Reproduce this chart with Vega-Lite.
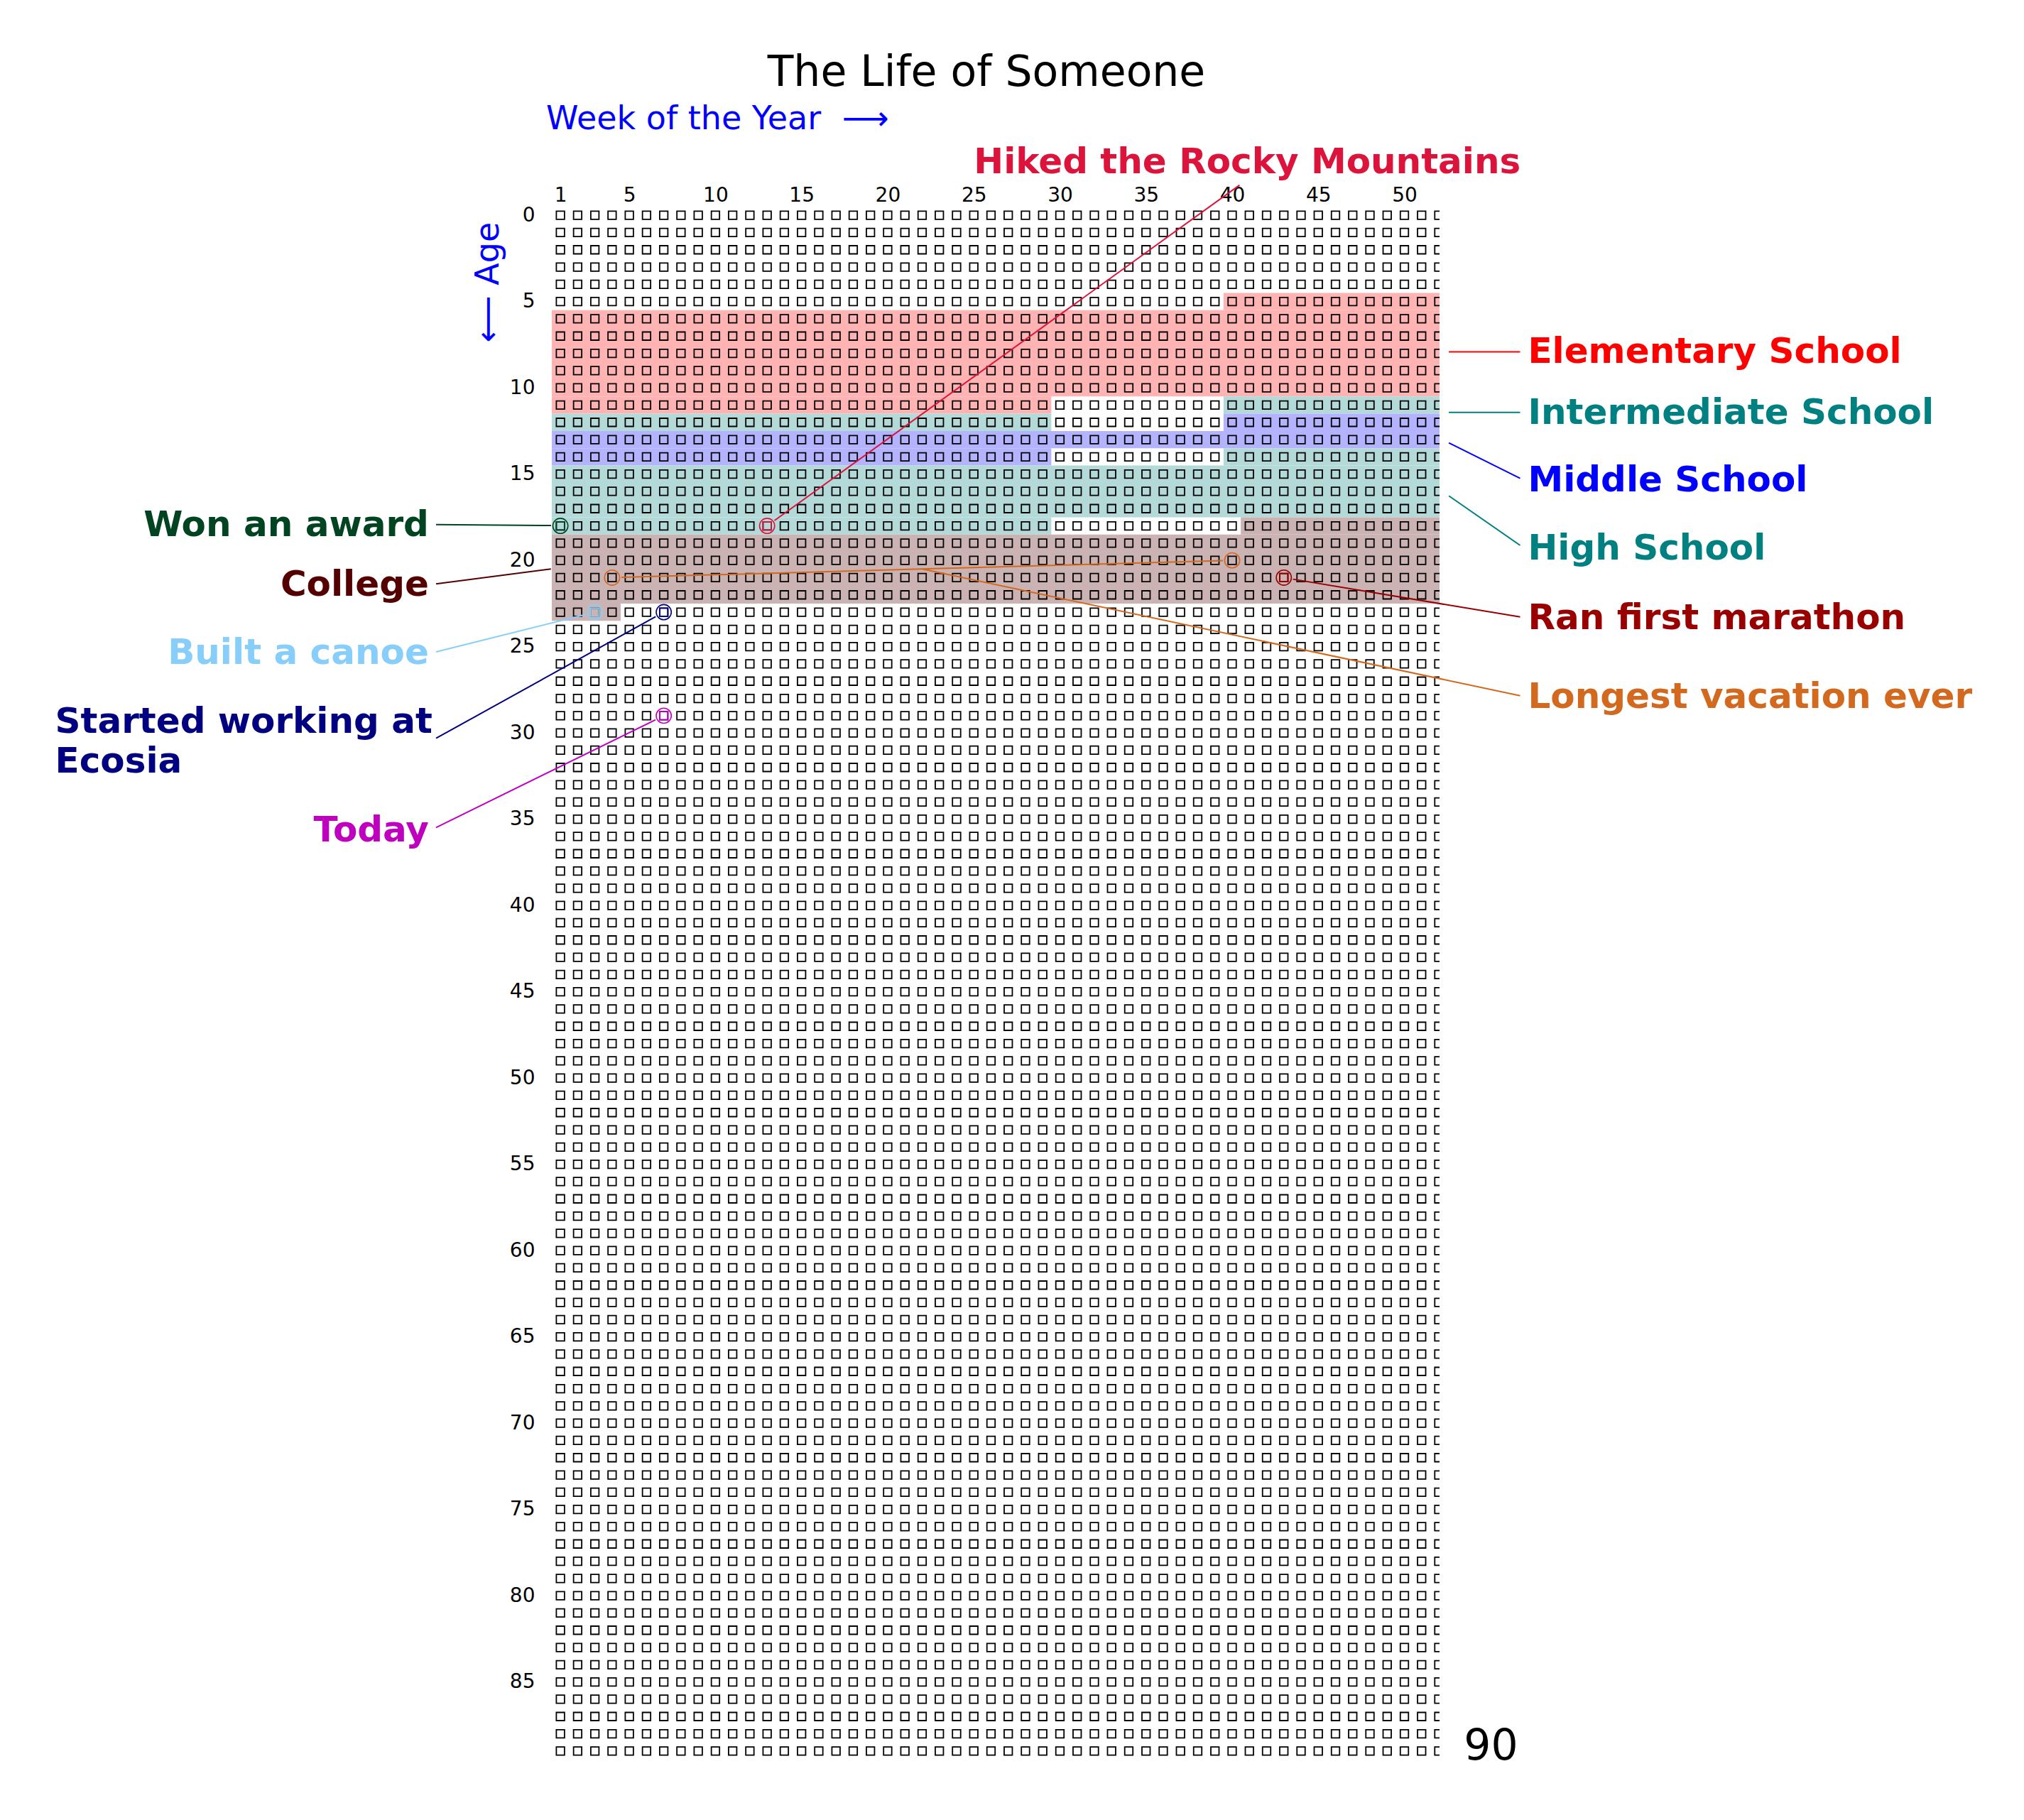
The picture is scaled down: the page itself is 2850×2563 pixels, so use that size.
{
  "$schema": "https://vega.github.io/schema/vega-lite/v6.json",
  "autosize": {"type": "none"},
  "padding": {"left": 777, "top": 291, "right": 823, "bottom": 85},
  "width": 1250,
  "height": 2187,
  "background": "white",
  "title": {"text": "The Life of Someone", "font": "DejaVu Sans", "fontSize": 60, "fontWeight": "normal", "color": "black", "anchor": "middle", "frame": "group", "baseline": "alphabetic", "offset": 25, "dx": -13, "dy": 61},
  "config": {"view": {"stroke": null}, "text": {"font": "DejaVu Sans"}},
  "datasets": {
    "periods": [
      {"p": "Elementary School", "x": 39.5, "x2": 52.5, "y": 4.5, "y2": 5.5, "c": "#ffb3b3"},
      {"p": "Elementary School", "x": 0.5, "x2": 52.5, "y": 5.5, "y2": 10.5, "c": "#ffb3b3"},
      {"p": "Elementary School", "x": 0.5, "x2": 29.5, "y": 10.5, "y2": 11.5, "c": "#ffb3b3"},
      {"p": "Intermediate School", "x": 39.5, "x2": 52.5, "y": 10.5, "y2": 11.5, "c": "#b3d9d9"},
      {"p": "Intermediate School", "x": 0.5, "x2": 29.5, "y": 11.5, "y2": 12.5, "c": "#b3d9d9"},
      {"p": "Middle School", "x": 39.5, "x2": 52.5, "y": 11.5, "y2": 12.5, "c": "#b3b3ff"},
      {"p": "Middle School", "x": 0.5, "x2": 52.5, "y": 12.5, "y2": 13.5, "c": "#b3b3ff"},
      {"p": "Middle School", "x": 0.5, "x2": 29.5, "y": 13.5, "y2": 14.5, "c": "#b3b3ff"},
      {"p": "High School", "x": 39.5, "x2": 52.5, "y": 13.5, "y2": 14.5, "c": "#b3d9d9"},
      {"p": "High School", "x": 0.5, "x2": 52.5, "y": 14.5, "y2": 17.5, "c": "#b3d9d9"},
      {"p": "High School", "x": 0.5, "x2": 29.5, "y": 17.5, "y2": 18.5, "c": "#b3d9d9"},
      {"p": "College", "x": 40.5, "x2": 52.5, "y": 17.5, "y2": 18.5, "c": "#ccb3b3"},
      {"p": "College", "x": 0.5, "x2": 52.5, "y": 18.5, "y2": 22.5, "c": "#ccb3b3"},
      {"p": "College", "x": 0.5, "x2": 4.5, "y": 22.5, "y2": 23.5, "c": "#ccb3b3"}
    ],
    "grid": [
      {"y":0,"x":[1,2,3,4,5,6,7,8,9,10,11,12,13,14,15,16,17,18,19,20,21,22,23,24,25,26,27,28,29,30,31,32,33,34,35,36,37,38,39,40,41,42,43,44,45,46,47,48,49,50,51,52]},
      {"y":1,"x":[1,2,3,4,5,6,7,8,9,10,11,12,13,14,15,16,17,18,19,20,21,22,23,24,25,26,27,28,29,30,31,32,33,34,35,36,37,38,39,40,41,42,43,44,45,46,47,48,49,50,51,52]},
      {"y":2,"x":[1,2,3,4,5,6,7,8,9,10,11,12,13,14,15,16,17,18,19,20,21,22,23,24,25,26,27,28,29,30,31,32,33,34,35,36,37,38,39,40,41,42,43,44,45,46,47,48,49,50,51,52]},
      {"y":3,"x":[1,2,3,4,5,6,7,8,9,10,11,12,13,14,15,16,17,18,19,20,21,22,23,24,25,26,27,28,29,30,31,32,33,34,35,36,37,38,39,40,41,42,43,44,45,46,47,48,49,50,51,52]},
      {"y":4,"x":[1,2,3,4,5,6,7,8,9,10,11,12,13,14,15,16,17,18,19,20,21,22,23,24,25,26,27,28,29,30,31,32,33,34,35,36,37,38,39,40,41,42,43,44,45,46,47,48,49,50,51,52]},
      {"y":5,"x":[1,2,3,4,5,6,7,8,9,10,11,12,13,14,15,16,17,18,19,20,21,22,23,24,25,26,27,28,29,30,31,32,33,34,35,36,37,38,39,40,41,42,43,44,45,46,47,48,49,50,51,52]},
      {"y":6,"x":[1,2,3,4,5,6,7,8,9,10,11,12,13,14,15,16,17,18,19,20,21,22,23,24,25,26,27,28,29,30,31,32,33,34,35,36,37,38,39,40,41,42,43,44,45,46,47,48,49,50,51,52]},
      {"y":7,"x":[1,2,3,4,5,6,7,8,9,10,11,12,13,14,15,16,17,18,19,20,21,22,23,24,25,26,27,28,29,30,31,32,33,34,35,36,37,38,39,40,41,42,43,44,45,46,47,48,49,50,51,52]},
      {"y":8,"x":[1,2,3,4,5,6,7,8,9,10,11,12,13,14,15,16,17,18,19,20,21,22,23,24,25,26,27,28,29,30,31,32,33,34,35,36,37,38,39,40,41,42,43,44,45,46,47,48,49,50,51,52]},
      {"y":9,"x":[1,2,3,4,5,6,7,8,9,10,11,12,13,14,15,16,17,18,19,20,21,22,23,24,25,26,27,28,29,30,31,32,33,34,35,36,37,38,39,40,41,42,43,44,45,46,47,48,49,50,51,52]},
      {"y":10,"x":[1,2,3,4,5,6,7,8,9,10,11,12,13,14,15,16,17,18,19,20,21,22,23,24,25,26,27,28,29,30,31,32,33,34,35,36,37,38,39,40,41,42,43,44,45,46,47,48,49,50,51,52]},
      {"y":11,"x":[1,2,3,4,5,6,7,8,9,10,11,12,13,14,15,16,17,18,19,20,21,22,23,24,25,26,27,28,29,30,31,32,33,34,35,36,37,38,39,40,41,42,43,44,45,46,47,48,49,50,51,52]},
      {"y":12,"x":[1,2,3,4,5,6,7,8,9,10,11,12,13,14,15,16,17,18,19,20,21,22,23,24,25,26,27,28,29,30,31,32,33,34,35,36,37,38,39,40,41,42,43,44,45,46,47,48,49,50,51,52]},
      {"y":13,"x":[1,2,3,4,5,6,7,8,9,10,11,12,13,14,15,16,17,18,19,20,21,22,23,24,25,26,27,28,29,30,31,32,33,34,35,36,37,38,39,40,41,42,43,44,45,46,47,48,49,50,51,52]},
      {"y":14,"x":[1,2,3,4,5,6,7,8,9,10,11,12,13,14,15,16,17,18,19,20,21,22,23,24,25,26,27,28,29,30,31,32,33,34,35,36,37,38,39,40,41,42,43,44,45,46,47,48,49,50,51,52]},
      {"y":15,"x":[1,2,3,4,5,6,7,8,9,10,11,12,13,14,15,16,17,18,19,20,21,22,23,24,25,26,27,28,29,30,31,32,33,34,35,36,37,38,39,40,41,42,43,44,45,46,47,48,49,50,51,52]},
      {"y":16,"x":[1,2,3,4,5,6,7,8,9,10,11,12,13,14,15,16,17,18,19,20,21,22,23,24,25,26,27,28,29,30,31,32,33,34,35,36,37,38,39,40,41,42,43,44,45,46,47,48,49,50,51,52]},
      {"y":17,"x":[1,2,3,4,5,6,7,8,9,10,11,12,13,14,15,16,17,18,19,20,21,22,23,24,25,26,27,28,29,30,31,32,33,34,35,36,37,38,39,40,41,42,43,44,45,46,47,48,49,50,51,52]},
      {"y":18,"x":[1,2,3,4,5,6,7,8,9,10,11,12,13,14,15,16,17,18,19,20,21,22,23,24,25,26,27,28,29,30,31,32,33,34,35,36,37,38,39,40,41,42,43,44,45,46,47,48,49,50,51,52]},
      {"y":19,"x":[1,2,3,4,5,6,7,8,9,10,11,12,13,14,15,16,17,18,19,20,21,22,23,24,25,26,27,28,29,30,31,32,33,34,35,36,37,38,39,40,41,42,43,44,45,46,47,48,49,50,51,52]},
      {"y":20,"x":[1,2,3,4,5,6,7,8,9,10,11,12,13,14,15,16,17,18,19,20,21,22,23,24,25,26,27,28,29,30,31,32,33,34,35,36,37,38,39,40,41,42,43,44,45,46,47,48,49,50,51,52]},
      {"y":21,"x":[1,2,3,4,5,6,7,8,9,10,11,12,13,14,15,16,17,18,19,20,21,22,23,24,25,26,27,28,29,30,31,32,33,34,35,36,37,38,39,40,41,42,43,44,45,46,47,48,49,50,51,52]},
      {"y":22,"x":[1,2,3,4,5,6,7,8,9,10,11,12,13,14,15,16,17,18,19,20,21,22,23,24,25,26,27,28,29,30,31,32,33,34,35,36,37,38,39,40,41,42,43,44,45,46,47,48,49,50,51,52]},
      {"y":23,"x":[1,2,3,4,5,6,7,8,9,10,11,12,13,14,15,16,17,18,19,20,21,22,23,24,25,26,27,28,29,30,31,32,33,34,35,36,37,38,39,40,41,42,43,44,45,46,47,48,49,50,51,52]},
      {"y":24,"x":[1,2,3,4,5,6,7,8,9,10,11,12,13,14,15,16,17,18,19,20,21,22,23,24,25,26,27,28,29,30,31,32,33,34,35,36,37,38,39,40,41,42,43,44,45,46,47,48,49,50,51,52]},
      {"y":25,"x":[1,2,3,4,5,6,7,8,9,10,11,12,13,14,15,16,17,18,19,20,21,22,23,24,25,26,27,28,29,30,31,32,33,34,35,36,37,38,39,40,41,42,43,44,45,46,47,48,49,50,51,52]},
      {"y":26,"x":[1,2,3,4,5,6,7,8,9,10,11,12,13,14,15,16,17,18,19,20,21,22,23,24,25,26,27,28,29,30,31,32,33,34,35,36,37,38,39,40,41,42,43,44,45,46,47,48,49,50,51,52]},
      {"y":27,"x":[1,2,3,4,5,6,7,8,9,10,11,12,13,14,15,16,17,18,19,20,21,22,23,24,25,26,27,28,29,30,31,32,33,34,35,36,37,38,39,40,41,42,43,44,45,46,47,48,49,50,51,52]},
      {"y":28,"x":[1,2,3,4,5,6,7,8,9,10,11,12,13,14,15,16,17,18,19,20,21,22,23,24,25,26,27,28,29,30,31,32,33,34,35,36,37,38,39,40,41,42,43,44,45,46,47,48,49,50,51,52]},
      {"y":29,"x":[1,2,3,4,5,6,7,8,9,10,11,12,13,14,15,16,17,18,19,20,21,22,23,24,25,26,27,28,29,30,31,32,33,34,35,36,37,38,39,40,41,42,43,44,45,46,47,48,49,50,51,52]},
      {"y":30,"x":[1,2,3,4,5,6,7,8,9,10,11,12,13,14,15,16,17,18,19,20,21,22,23,24,25,26,27,28,29,30,31,32,33,34,35,36,37,38,39,40,41,42,43,44,45,46,47,48,49,50,51,52]},
      {"y":31,"x":[1,2,3,4,5,6,7,8,9,10,11,12,13,14,15,16,17,18,19,20,21,22,23,24,25,26,27,28,29,30,31,32,33,34,35,36,37,38,39,40,41,42,43,44,45,46,47,48,49,50,51,52]},
      {"y":32,"x":[1,2,3,4,5,6,7,8,9,10,11,12,13,14,15,16,17,18,19,20,21,22,23,24,25,26,27,28,29,30,31,32,33,34,35,36,37,38,39,40,41,42,43,44,45,46,47,48,49,50,51,52]},
      {"y":33,"x":[1,2,3,4,5,6,7,8,9,10,11,12,13,14,15,16,17,18,19,20,21,22,23,24,25,26,27,28,29,30,31,32,33,34,35,36,37,38,39,40,41,42,43,44,45,46,47,48,49,50,51,52]},
      {"y":34,"x":[1,2,3,4,5,6,7,8,9,10,11,12,13,14,15,16,17,18,19,20,21,22,23,24,25,26,27,28,29,30,31,32,33,34,35,36,37,38,39,40,41,42,43,44,45,46,47,48,49,50,51,52]},
      {"y":35,"x":[1,2,3,4,5,6,7,8,9,10,11,12,13,14,15,16,17,18,19,20,21,22,23,24,25,26,27,28,29,30,31,32,33,34,35,36,37,38,39,40,41,42,43,44,45,46,47,48,49,50,51,52]},
      {"y":36,"x":[1,2,3,4,5,6,7,8,9,10,11,12,13,14,15,16,17,18,19,20,21,22,23,24,25,26,27,28,29,30,31,32,33,34,35,36,37,38,39,40,41,42,43,44,45,46,47,48,49,50,51,52]},
      {"y":37,"x":[1,2,3,4,5,6,7,8,9,10,11,12,13,14,15,16,17,18,19,20,21,22,23,24,25,26,27,28,29,30,31,32,33,34,35,36,37,38,39,40,41,42,43,44,45,46,47,48,49,50,51,52]},
      {"y":38,"x":[1,2,3,4,5,6,7,8,9,10,11,12,13,14,15,16,17,18,19,20,21,22,23,24,25,26,27,28,29,30,31,32,33,34,35,36,37,38,39,40,41,42,43,44,45,46,47,48,49,50,51,52]},
      {"y":39,"x":[1,2,3,4,5,6,7,8,9,10,11,12,13,14,15,16,17,18,19,20,21,22,23,24,25,26,27,28,29,30,31,32,33,34,35,36,37,38,39,40,41,42,43,44,45,46,47,48,49,50,51,52]},
      {"y":40,"x":[1,2,3,4,5,6,7,8,9,10,11,12,13,14,15,16,17,18,19,20,21,22,23,24,25,26,27,28,29,30,31,32,33,34,35,36,37,38,39,40,41,42,43,44,45,46,47,48,49,50,51,52]},
      {"y":41,"x":[1,2,3,4,5,6,7,8,9,10,11,12,13,14,15,16,17,18,19,20,21,22,23,24,25,26,27,28,29,30,31,32,33,34,35,36,37,38,39,40,41,42,43,44,45,46,47,48,49,50,51,52]},
      {"y":42,"x":[1,2,3,4,5,6,7,8,9,10,11,12,13,14,15,16,17,18,19,20,21,22,23,24,25,26,27,28,29,30,31,32,33,34,35,36,37,38,39,40,41,42,43,44,45,46,47,48,49,50,51,52]},
      {"y":43,"x":[1,2,3,4,5,6,7,8,9,10,11,12,13,14,15,16,17,18,19,20,21,22,23,24,25,26,27,28,29,30,31,32,33,34,35,36,37,38,39,40,41,42,43,44,45,46,47,48,49,50,51,52]},
      {"y":44,"x":[1,2,3,4,5,6,7,8,9,10,11,12,13,14,15,16,17,18,19,20,21,22,23,24,25,26,27,28,29,30,31,32,33,34,35,36,37,38,39,40,41,42,43,44,45,46,47,48,49,50,51,52]},
      {"y":45,"x":[1,2,3,4,5,6,7,8,9,10,11,12,13,14,15,16,17,18,19,20,21,22,23,24,25,26,27,28,29,30,31,32,33,34,35,36,37,38,39,40,41,42,43,44,45,46,47,48,49,50,51,52]},
      {"y":46,"x":[1,2,3,4,5,6,7,8,9,10,11,12,13,14,15,16,17,18,19,20,21,22,23,24,25,26,27,28,29,30,31,32,33,34,35,36,37,38,39,40,41,42,43,44,45,46,47,48,49,50,51,52]},
      {"y":47,"x":[1,2,3,4,5,6,7,8,9,10,11,12,13,14,15,16,17,18,19,20,21,22,23,24,25,26,27,28,29,30,31,32,33,34,35,36,37,38,39,40,41,42,43,44,45,46,47,48,49,50,51,52]},
      {"y":48,"x":[1,2,3,4,5,6,7,8,9,10,11,12,13,14,15,16,17,18,19,20,21,22,23,24,25,26,27,28,29,30,31,32,33,34,35,36,37,38,39,40,41,42,43,44,45,46,47,48,49,50,51,52]},
      {"y":49,"x":[1,2,3,4,5,6,7,8,9,10,11,12,13,14,15,16,17,18,19,20,21,22,23,24,25,26,27,28,29,30,31,32,33,34,35,36,37,38,39,40,41,42,43,44,45,46,47,48,49,50,51,52]},
      {"y":50,"x":[1,2,3,4,5,6,7,8,9,10,11,12,13,14,15,16,17,18,19,20,21,22,23,24,25,26,27,28,29,30,31,32,33,34,35,36,37,38,39,40,41,42,43,44,45,46,47,48,49,50,51,52]},
      {"y":51,"x":[1,2,3,4,5,6,7,8,9,10,11,12,13,14,15,16,17,18,19,20,21,22,23,24,25,26,27,28,29,30,31,32,33,34,35,36,37,38,39,40,41,42,43,44,45,46,47,48,49,50,51,52]},
      {"y":52,"x":[1,2,3,4,5,6,7,8,9,10,11,12,13,14,15,16,17,18,19,20,21,22,23,24,25,26,27,28,29,30,31,32,33,34,35,36,37,38,39,40,41,42,43,44,45,46,47,48,49,50,51,52]},
      {"y":53,"x":[1,2,3,4,5,6,7,8,9,10,11,12,13,14,15,16,17,18,19,20,21,22,23,24,25,26,27,28,29,30,31,32,33,34,35,36,37,38,39,40,41,42,43,44,45,46,47,48,49,50,51,52]},
      {"y":54,"x":[1,2,3,4,5,6,7,8,9,10,11,12,13,14,15,16,17,18,19,20,21,22,23,24,25,26,27,28,29,30,31,32,33,34,35,36,37,38,39,40,41,42,43,44,45,46,47,48,49,50,51,52]},
      {"y":55,"x":[1,2,3,4,5,6,7,8,9,10,11,12,13,14,15,16,17,18,19,20,21,22,23,24,25,26,27,28,29,30,31,32,33,34,35,36,37,38,39,40,41,42,43,44,45,46,47,48,49,50,51,52]},
      {"y":56,"x":[1,2,3,4,5,6,7,8,9,10,11,12,13,14,15,16,17,18,19,20,21,22,23,24,25,26,27,28,29,30,31,32,33,34,35,36,37,38,39,40,41,42,43,44,45,46,47,48,49,50,51,52]},
      {"y":57,"x":[1,2,3,4,5,6,7,8,9,10,11,12,13,14,15,16,17,18,19,20,21,22,23,24,25,26,27,28,29,30,31,32,33,34,35,36,37,38,39,40,41,42,43,44,45,46,47,48,49,50,51,52]},
      {"y":58,"x":[1,2,3,4,5,6,7,8,9,10,11,12,13,14,15,16,17,18,19,20,21,22,23,24,25,26,27,28,29,30,31,32,33,34,35,36,37,38,39,40,41,42,43,44,45,46,47,48,49,50,51,52]},
      {"y":59,"x":[1,2,3,4,5,6,7,8,9,10,11,12,13,14,15,16,17,18,19,20,21,22,23,24,25,26,27,28,29,30,31,32,33,34,35,36,37,38,39,40,41,42,43,44,45,46,47,48,49,50,51,52]},
      {"y":60,"x":[1,2,3,4,5,6,7,8,9,10,11,12,13,14,15,16,17,18,19,20,21,22,23,24,25,26,27,28,29,30,31,32,33,34,35,36,37,38,39,40,41,42,43,44,45,46,47,48,49,50,51,52]},
      {"y":61,"x":[1,2,3,4,5,6,7,8,9,10,11,12,13,14,15,16,17,18,19,20,21,22,23,24,25,26,27,28,29,30,31,32,33,34,35,36,37,38,39,40,41,42,43,44,45,46,47,48,49,50,51,52]},
      {"y":62,"x":[1,2,3,4,5,6,7,8,9,10,11,12,13,14,15,16,17,18,19,20,21,22,23,24,25,26,27,28,29,30,31,32,33,34,35,36,37,38,39,40,41,42,43,44,45,46,47,48,49,50,51,52]},
      {"y":63,"x":[1,2,3,4,5,6,7,8,9,10,11,12,13,14,15,16,17,18,19,20,21,22,23,24,25,26,27,28,29,30,31,32,33,34,35,36,37,38,39,40,41,42,43,44,45,46,47,48,49,50,51,52]},
      {"y":64,"x":[1,2,3,4,5,6,7,8,9,10,11,12,13,14,15,16,17,18,19,20,21,22,23,24,25,26,27,28,29,30,31,32,33,34,35,36,37,38,39,40,41,42,43,44,45,46,47,48,49,50,51,52]},
      {"y":65,"x":[1,2,3,4,5,6,7,8,9,10,11,12,13,14,15,16,17,18,19,20,21,22,23,24,25,26,27,28,29,30,31,32,33,34,35,36,37,38,39,40,41,42,43,44,45,46,47,48,49,50,51,52]},
      {"y":66,"x":[1,2,3,4,5,6,7,8,9,10,11,12,13,14,15,16,17,18,19,20,21,22,23,24,25,26,27,28,29,30,31,32,33,34,35,36,37,38,39,40,41,42,43,44,45,46,47,48,49,50,51,52]},
      {"y":67,"x":[1,2,3,4,5,6,7,8,9,10,11,12,13,14,15,16,17,18,19,20,21,22,23,24,25,26,27,28,29,30,31,32,33,34,35,36,37,38,39,40,41,42,43,44,45,46,47,48,49,50,51,52]},
      {"y":68,"x":[1,2,3,4,5,6,7,8,9,10,11,12,13,14,15,16,17,18,19,20,21,22,23,24,25,26,27,28,29,30,31,32,33,34,35,36,37,38,39,40,41,42,43,44,45,46,47,48,49,50,51,52]},
      {"y":69,"x":[1,2,3,4,5,6,7,8,9,10,11,12,13,14,15,16,17,18,19,20,21,22,23,24,25,26,27,28,29,30,31,32,33,34,35,36,37,38,39,40,41,42,43,44,45,46,47,48,49,50,51,52]},
      {"y":70,"x":[1,2,3,4,5,6,7,8,9,10,11,12,13,14,15,16,17,18,19,20,21,22,23,24,25,26,27,28,29,30,31,32,33,34,35,36,37,38,39,40,41,42,43,44,45,46,47,48,49,50,51,52]},
      {"y":71,"x":[1,2,3,4,5,6,7,8,9,10,11,12,13,14,15,16,17,18,19,20,21,22,23,24,25,26,27,28,29,30,31,32,33,34,35,36,37,38,39,40,41,42,43,44,45,46,47,48,49,50,51,52]},
      {"y":72,"x":[1,2,3,4,5,6,7,8,9,10,11,12,13,14,15,16,17,18,19,20,21,22,23,24,25,26,27,28,29,30,31,32,33,34,35,36,37,38,39,40,41,42,43,44,45,46,47,48,49,50,51,52]},
      {"y":73,"x":[1,2,3,4,5,6,7,8,9,10,11,12,13,14,15,16,17,18,19,20,21,22,23,24,25,26,27,28,29,30,31,32,33,34,35,36,37,38,39,40,41,42,43,44,45,46,47,48,49,50,51,52]},
      {"y":74,"x":[1,2,3,4,5,6,7,8,9,10,11,12,13,14,15,16,17,18,19,20,21,22,23,24,25,26,27,28,29,30,31,32,33,34,35,36,37,38,39,40,41,42,43,44,45,46,47,48,49,50,51,52]},
      {"y":75,"x":[1,2,3,4,5,6,7,8,9,10,11,12,13,14,15,16,17,18,19,20,21,22,23,24,25,26,27,28,29,30,31,32,33,34,35,36,37,38,39,40,41,42,43,44,45,46,47,48,49,50,51,52]},
      {"y":76,"x":[1,2,3,4,5,6,7,8,9,10,11,12,13,14,15,16,17,18,19,20,21,22,23,24,25,26,27,28,29,30,31,32,33,34,35,36,37,38,39,40,41,42,43,44,45,46,47,48,49,50,51,52]},
      {"y":77,"x":[1,2,3,4,5,6,7,8,9,10,11,12,13,14,15,16,17,18,19,20,21,22,23,24,25,26,27,28,29,30,31,32,33,34,35,36,37,38,39,40,41,42,43,44,45,46,47,48,49,50,51,52]},
      {"y":78,"x":[1,2,3,4,5,6,7,8,9,10,11,12,13,14,15,16,17,18,19,20,21,22,23,24,25,26,27,28,29,30,31,32,33,34,35,36,37,38,39,40,41,42,43,44,45,46,47,48,49,50,51,52]},
      {"y":79,"x":[1,2,3,4,5,6,7,8,9,10,11,12,13,14,15,16,17,18,19,20,21,22,23,24,25,26,27,28,29,30,31,32,33,34,35,36,37,38,39,40,41,42,43,44,45,46,47,48,49,50,51,52]},
      {"y":80,"x":[1,2,3,4,5,6,7,8,9,10,11,12,13,14,15,16,17,18,19,20,21,22,23,24,25,26,27,28,29,30,31,32,33,34,35,36,37,38,39,40,41,42,43,44,45,46,47,48,49,50,51,52]},
      {"y":81,"x":[1,2,3,4,5,6,7,8,9,10,11,12,13,14,15,16,17,18,19,20,21,22,23,24,25,26,27,28,29,30,31,32,33,34,35,36,37,38,39,40,41,42,43,44,45,46,47,48,49,50,51,52]},
      {"y":82,"x":[1,2,3,4,5,6,7,8,9,10,11,12,13,14,15,16,17,18,19,20,21,22,23,24,25,26,27,28,29,30,31,32,33,34,35,36,37,38,39,40,41,42,43,44,45,46,47,48,49,50,51,52]},
      {"y":83,"x":[1,2,3,4,5,6,7,8,9,10,11,12,13,14,15,16,17,18,19,20,21,22,23,24,25,26,27,28,29,30,31,32,33,34,35,36,37,38,39,40,41,42,43,44,45,46,47,48,49,50,51,52]},
      {"y":84,"x":[1,2,3,4,5,6,7,8,9,10,11,12,13,14,15,16,17,18,19,20,21,22,23,24,25,26,27,28,29,30,31,32,33,34,35,36,37,38,39,40,41,42,43,44,45,46,47,48,49,50,51,52]},
      {"y":85,"x":[1,2,3,4,5,6,7,8,9,10,11,12,13,14,15,16,17,18,19,20,21,22,23,24,25,26,27,28,29,30,31,32,33,34,35,36,37,38,39,40,41,42,43,44,45,46,47,48,49,50,51,52]},
      {"y":86,"x":[1,2,3,4,5,6,7,8,9,10,11,12,13,14,15,16,17,18,19,20,21,22,23,24,25,26,27,28,29,30,31,32,33,34,35,36,37,38,39,40,41,42,43,44,45,46,47,48,49,50,51,52]},
      {"y":87,"x":[1,2,3,4,5,6,7,8,9,10,11,12,13,14,15,16,17,18,19,20,21,22,23,24,25,26,27,28,29,30,31,32,33,34,35,36,37,38,39,40,41,42,43,44,45,46,47,48,49,50,51,52]},
      {"y":88,"x":[1,2,3,4,5,6,7,8,9,10,11,12,13,14,15,16,17,18,19,20,21,22,23,24,25,26,27,28,29,30,31,32,33,34,35,36,37,38,39,40,41,42,43,44,45,46,47,48,49,50,51,52]},
      {"y":89,"x":[1,2,3,4,5,6,7,8,9,10,11,12,13,14,15,16,17,18,19,20,21,22,23,24,25,26,27,28,29,30,31,32,33,34,35,36,37,38,39,40,41,42,43,44,45,46,47,48,49,50,51,52]}
    ],
    "events": [
      {"e": "Won an award", "x": 1, "y": 18, "c": "#004422", "sq": true},
      {"e": "Hiked the Rocky Mountains", "x": 13, "y": 18, "c": "#DC143C", "sq": true},
      {"e": "Built a canoe", "x": 3, "y": 23, "c": "#87CEFA", "sq": true},
      {"e": "Started working at Ecosia", "x": 7, "y": 23, "c": "#000080", "sq": true},
      {"e": "Today", "x": 7, "y": 29, "c": "#BF00BF", "sq": true},
      {"e": "Ran first marathon", "x": 43, "y": 21, "c": "#990000", "sq": true},
      {"e": "Longest vacation ever (start)", "x": 4, "y": 21, "c": "#D2691E", "sq": false},
      {"e": "Longest vacation ever (end)", "x": 40, "y": 20, "c": "#D2691E", "sq": false}
    ],
    "lines": [
      {"n": "Won an award", "x": -6.22, "y": 17.93, "x2": 0.46, "y2": 17.98, "c": "#004422"},
      {"n": "College", "x": -6.22, "y": 21.36, "x2": 0.45, "y2": 20.5, "c": "#550000"},
      {"n": "Built a canoe", "x": -6.22, "y": 25.3, "x2": 2.48, "y2": 23.13, "c": "#87CEFA"},
      {"n": "Started working at Ecosia", "x": -6.22, "y": 30.31, "x2": 6.53, "y2": 23.26, "c": "#000080"},
      {"n": "Today", "x": -6.22, "y": 35.48, "x2": 6.52, "y2": 29.24, "c": "#BF00BF"},
      {"n": "Hiked the Rocky Mountains", "x": 40.43, "y": -1.75, "x2": 13.43, "y2": 17.69, "c": "#DC143C"},
      {"n": "Elementary School", "x": 52.58, "y": 7.92, "x2": 56.72, "y2": 7.92, "c": "#FF0000"},
      {"n": "Intermediate School", "x": 52.58, "y": 11.42, "x2": 56.72, "y2": 11.42, "c": "#008080"},
      {"n": "Middle School", "x": 52.58, "y": 13.19, "x2": 56.72, "y2": 15.25, "c": "#0000FF"},
      {"n": "High School", "x": 52.58, "y": 16.26, "x2": 56.72, "y2": 19.13, "c": "#008080"},
      {"n": "Ran first marathon", "x": 43.53, "y": 21.09, "x2": 56.72, "y2": 23.28, "c": "#990000"},
      {"n": "Longest vacation span", "x": 4.54, "y": 20.985, "x2": 39.46, "y2": 20.015, "c": "#D2691E"},
      {"n": "Longest vacation ever", "x": 22, "y": 20.5, "x2": 56.72, "y2": 27.84, "c": "#D2691E"}
    ],
    "leftLabels": [
      {"t": "Won an award", "x": -6.64, "y": 18.59, "c": "#004422"},
      {"t": "College", "x": -6.64, "y": 22.05, "c": "#550000"},
      {"t": "Built a canoe", "x": -6.64, "y": 26.02, "c": "#87CEFA"},
      {"t": "Today", "x": -6.64, "y": 36.27, "c": "#BF00BF"}
    ],
    "multiLabels": [
      {"t": "Started working at\nEcosia", "x": -28.34, "y": 29.99, "c": "#000080"}
    ],
    "rightLabels": [
      {"t": "Elementary School", "x": 57.17, "y": 8.55, "c": "#FF0000"},
      {"t": "Intermediate School", "x": 57.17, "y": 12.09, "c": "#008080"},
      {"t": "Middle School", "x": 57.17, "y": 16.02, "c": "#0000FF"},
      {"t": "High School", "x": 57.17, "y": 19.95, "c": "#008080"},
      {"t": "Ran first marathon", "x": 57.17, "y": 24.0, "c": "#990000"},
      {"t": "Longest vacation ever", "x": 57.17, "y": 28.56, "c": "#D2691E"}
    ],
    "topLabels": [
      {"t": "Hiked the Rocky Mountains", "x": 40.88, "y": -2.45, "c": "#DC143C"}
    ],
    "endLabel": [
      {"t": "90", "x": 55.03, "y": 89.5}
    ]
  },
  "encoding": {
    "x": {
      "field": "x", "type": "quantitative",
      "scale": {"domain": [0.5, 52.04], "nice": false, "zero": false},
      "axis": {
        "orient": "top", "values": [1, 5, 10, 15, 20, 25, 30, 35, 40, 45, 50],
        "ticks": false, "tickSize": 0, "domain": false, "grid": false,
        "labelFont": "DejaVu Sans", "labelFontSize": 28, "labelColor": "black",
        "labelPadding": 8, "labelBaseline": "alphabetic", "labelFlush": false, "labelOverlap": false,
        "title": "Week of the Year\u00a0 ⟶", "titleFont": "DejaVu Sans", "titleFontSize": 46, "titleFontWeight": "normal",
        "titleColor": "blue", "titleX": -8.4, "titleY": -109.3, "titleAlign": "left", "titleBaseline": "alphabetic", "titleAngle": 0
      }
    },
    "y": {
      "field": "y", "type": "quantitative",
      "scale": {"domain": [-0.5, 89.5], "reverse": true, "nice": false, "zero": false},
      "axis": {
        "values": [0, 5, 10, 15, 20, 25, 30, 35, 40, 45, 50, 55, 60, 65, 70, 75, 80, 85],
        "ticks": false, "tickSize": 0, "domain": false, "grid": false,
        "labelFont": "DejaVu Sans", "labelFontSize": 28, "labelColor": "black",
        "labelPadding": 24, "labelFlush": false, "labelOverlap": false,
        "title": "⟵ Age", "titleFont": "DejaVu Sans", "titleFontSize": 46, "titleFontWeight": "normal",
        "titleColor": "blue", "titleAngle": 270, "titleX": -75.3, "titleY": 106, "titleAlign": "center", "titleBaseline": "alphabetic"
      }
    }
  },
  "layer": [
    {
      "data": {"name": "periods"},
      "mark": {"type": "rect", "clip": true},
      "encoding": {
        "x2": {"field": "x2"},
        "y2": {"field": "y2"},
        "color": {"field": "c", "type": "nominal", "scale": null}
      }
    },
    {
      "data": {"name": "grid"},
      "transform": [{"flatten": ["x"]}],
      "mark": {"type": "point", "shape": "square", "filled": false, "color": "black", "strokeWidth": 1.8, "size": 132, "opacity": 1, "clip": true}
    },
    {
      "data": {"name": "events"},
      "transform": [{"filter": "datum.sq"}],
      "mark": {"type": "point", "shape": "square", "filled": false, "strokeWidth": 1.8, "size": 132, "opacity": 1},
      "encoding": {"color": {"field": "c", "type": "nominal", "scale": null}}
    },
    {
      "data": {"name": "lines"},
      "mark": {"type": "rule", "strokeWidth": 2},
      "encoding": {
        "x2": {"field": "x2"},
        "y2": {"field": "y2"},
        "color": {"field": "c", "type": "nominal", "scale": null}
      }
    },
    {
      "data": {"name": "events"},
      "mark": {"type": "point", "shape": "circle", "filled": false, "strokeWidth": 1.6, "size": 452, "opacity": 1},
      "encoding": {"color": {"field": "c", "type": "nominal", "scale": null}}
    },
    {
      "data": {"name": "leftLabels"},
      "mark": {"type": "text", "align": "right", "baseline": "alphabetic", "font": "DejaVu Sans", "fontSize": 50, "fontWeight": "bold"},
      "encoding": {"text": {"field": "t"}, "color": {"field": "c", "type": "nominal", "scale": null}}
    },
    {
      "data": {"name": "multiLabels"},
      "mark": {"type": "text", "align": "left", "baseline": "alphabetic", "font": "DejaVu Sans", "fontSize": 50, "fontWeight": "bold", "lineBreak": "\n", "lineHeight": 56},
      "encoding": {"text": {"field": "t"}, "color": {"field": "c", "type": "nominal", "scale": null}}
    },
    {
      "data": {"name": "rightLabels"},
      "mark": {"type": "text", "align": "left", "baseline": "alphabetic", "font": "DejaVu Sans", "fontSize": 50, "fontWeight": "bold"},
      "encoding": {"text": {"field": "t"}, "color": {"field": "c", "type": "nominal", "scale": null}}
    },
    {
      "data": {"name": "topLabels"},
      "mark": {"type": "text", "align": "center", "baseline": "alphabetic", "font": "DejaVu Sans", "fontSize": 50, "fontWeight": "bold"},
      "encoding": {"text": {"field": "t"}, "color": {"field": "c", "type": "nominal", "scale": null}}
    },
    {
      "data": {"name": "endLabel"},
      "mark": {"type": "text", "align": "center", "baseline": "alphabetic", "font": "DejaVu Sans", "fontSize": 60, "fontWeight": "normal", "color": "black"},
      "encoding": {"text": {"field": "t"}}
    }
  ]
}
